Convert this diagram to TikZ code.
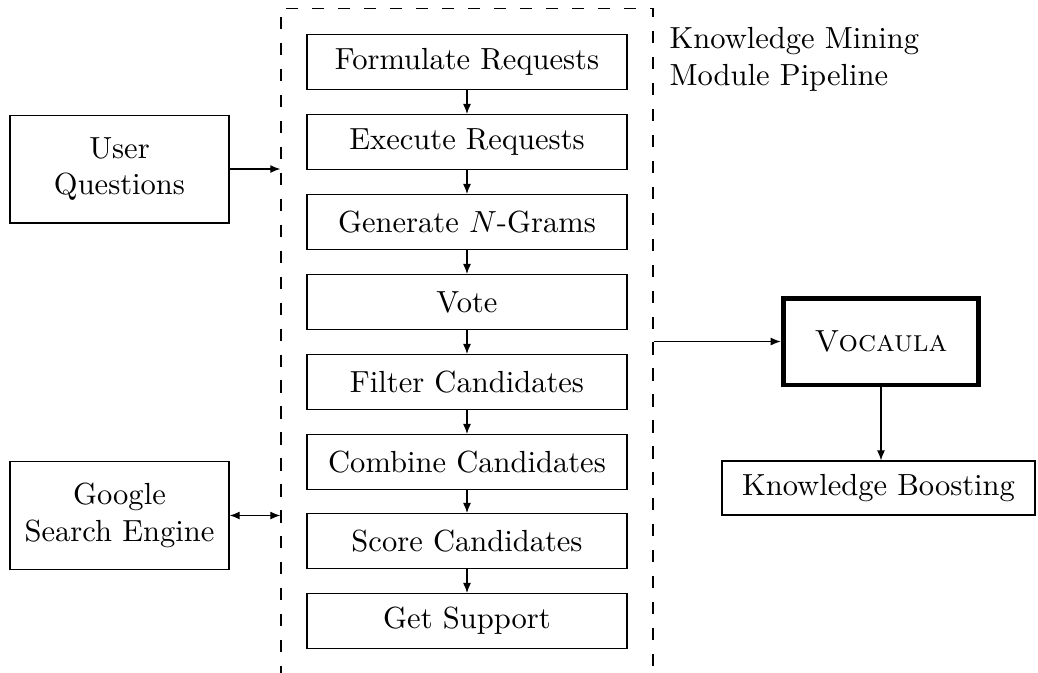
\documentclass[tikz,border=0pt]{standalone}
\usepackage{amsmath,amssymb}
\usepackage{tikz}
\usetikzlibrary{arrows.meta}

\tikzset{
  stage/.style = {draw, minimum width=3.68cm, minimum height=0.63cm, inner sep=0pt},
  source/.style = {draw, align=center, minimum width=2.52cm, minimum height=1.24cm, inner sep=0pt},
  flow/.style = {-{Latex[length=3.3pt,width=2.6pt]}},
  flowboth/.style = {{Latex[length=3.3pt,width=2.6pt]}-{Latex[length=3.3pt,width=2.6pt]}},
}

\begin{document}
\begin{tikzpicture}[x=0.0115cm, y=-0.0115cm]
        \useasboundingbox (0,0) rectangle (1038,672);

        \node[draw, dash pattern=on 4pt off 4.5pt, minimum width=4.28cm, minimum height=8.07cm] (pipe) at (467,359) {};
        \node[anchor=north west, align=left, inner sep=0pt] (title) at (669,27) {Knowledge Mining\\Module Pipeline};

        \node[stage] (s1) at (467,62) {Formulate Requests};
        \node[stage] (s2) at (467,142) {Execute Requests};
        \node[stage] (s3) at (467,222) {Generate $N$-Grams};
        \node[stage] (s4) at (467,302) {Vote};
        \node[stage] (s5) at (467,382) {Filter Candidates};
        \node[stage] (s6) at (467,462) {Combine Candidates};
        \node[stage] (s7) at (467,541) {Score Candidates};
        \node[stage] (s8) at (467,621) {Get Support};

        \node[source] (user) at (119.5,169) {User\\Questions};
        \node[source] (google) at (119.5,515.5) {Google\\Search Engine};

        \node[draw, line width=1.6pt, minimum width=2.25cm, minimum height=1.0cm] (vocaula) at (881,341.5) {\textsc{Vocaula}};
        \node[draw, minimum width=3.6cm, minimum height=0.62cm, inner sep=0pt] (boost) at (878.5,488) {Knowledge Boosting};

        \foreach \a/\b in {s1/s2,s2/s3,s3/s4,s4/s5,s5/s6,s6/s7,s7/s8}
                \draw[flow] (\a) -- (\b);

        \draw[flow] (user.east) -- (user.east -| pipe.west);
        \draw[flowboth] (google.east) -- (google.east -| pipe.west);
        \draw[flow] (pipe.east |- vocaula.west) -- (vocaula.west);
        \draw[flow] (vocaula.south) -- (vocaula.south |- boost.north);

\end{tikzpicture}
\end{document}
